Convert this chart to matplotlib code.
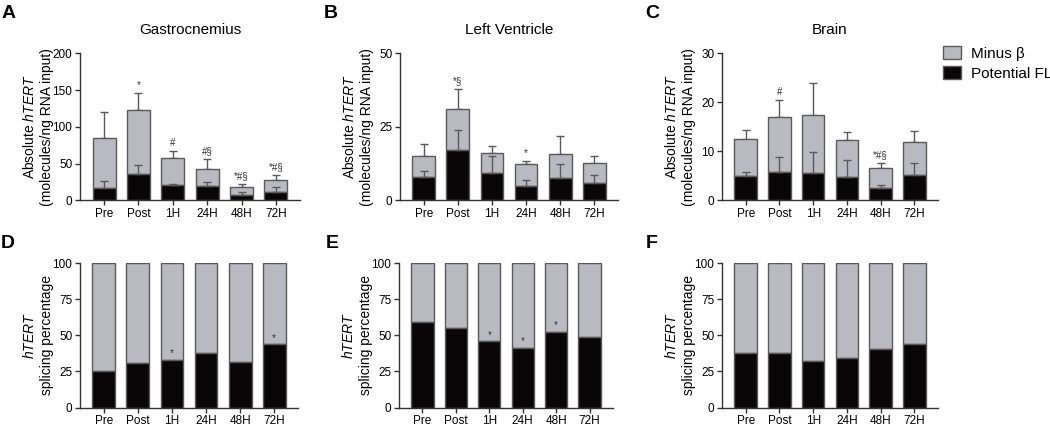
import numpy as np
import matplotlib
matplotlib.use("Agg")
import matplotlib.pyplot as plt
from matplotlib.patches import Patch

plt.rcParams['font.family'] = ['Liberation Sans', 'DejaVu Sans']
plt.rcParams['mathtext.fontset'] = 'custom'
plt.rcParams['mathtext.rm'] = 'Liberation Sans'
plt.rcParams['mathtext.it'] = 'Liberation Sans:italic'

times = ['Pre', 'Post', '1H', '24H', '48H', '72H']

# absolute hTERT, stacked: potential FL (black) + minus beta (grey)
gas_fl = [17.3, 36.4, 20.5, 19.1, 7.7, 11.8]
gas_fl_err = [8.7, 12.3, 1.8, 5.5, 3.2, 6.0]
gas_mb = [68.3, 86.1, 37.8, 24.2, 11.0, 15.5]
gas_mb_err = [34.2, 23.3, 9.1, 13.2, 4.1, 6.9]
gas_sig = ['', '*', '#', '#§', '*#§', '*#§']

lv_fl = [8.0, 17.2, 9.2, 5.0, 7.8, 6.1]
lv_fl_err = [2.0, 6.8, 6.1, 1.9, 4.5, 2.5]
lv_mb = [7.3, 14.05, 6.8, 7.5, 7.9, 6.5]
lv_mb_err = [3.8, 6.55, 2.4, 1.1, 6.3, 2.5]
lv_sig = ['', '*§', '', '*', '', '']

br_fl = [5.0, 5.9, 5.7, 4.8, 2.6, 5.3]
br_fl_err = [0.8, 3.0, 4.2, 3.5, 0.6, 2.3]
br_mb = [7.45, 11.2, 11.7, 7.6, 4.0, 6.6]
br_mb_err = [1.85, 3.5, 6.5, 1.6, 1.1, 2.3]
br_sig = ['', '#', '', '', '*#§', '']

# splicing percentage (potential FL share)
gas_pct = [25.2, 30.6, 33.0, 37.7, 31.2, 43.7]
gas_pct_sig = ['', '', '*', '', '', '*']
lv_pct = [59.0, 55.0, 45.7, 41.5, 52.5, 48.7]
lv_pct_sig = ['', '', '*', '*', '*', '']
br_pct = [38.0, 38.0, 32.3, 34.6, 40.3, 44.2]
br_pct_sig = ['', '', '', '', '', '']

GREY = '#b9b9c1'
BLACK = '#0a0608'
EDGE = '#5a5a5a'
W, H = 1050, 425

fig = plt.figure(figsize=(10.5, 4.25), dpi=100)


def make_ax(left, right, top, bottom):
    ax = fig.add_axes([left / W, 1 - bottom / H, (right - left) / W, (bottom - top) / H])
    for s in ['top', 'right']:
        ax.spines[s].set_visible(False)
    for s in ['left', 'bottom']:
        ax.spines[s].set_color('#333333')
        ax.spines[s].set_linewidth(1)
    ax.tick_params(axis='both', labelsize=8.5, length=3.5, width=1, color='#333333', pad=2)
    ax.set_xlim(-0.7, 5.7)
    return ax


def abs_panel(ax, fl, fl_err, mb, mb_err, sig, ymax, ticks, title):
    x = np.arange(len(times))
    fl = np.array(fl)
    mb = np.array(mb)
    top = fl + np.array(mb)
    ax.bar(x, mb, 0.67, bottom=fl, color=GREY, edgecolor=EDGE, linewidth=1, zorder=2)
    ax.bar(x, fl, 0.67, color=BLACK, edgecolor=EDGE, linewidth=1, zorder=3)
    ax.errorbar(x, top, yerr=[np.zeros(6), mb_err], fmt='none', ecolor='#5a5a5a',
                elinewidth=1, capsize=3, capthick=1, zorder=1)
    ax.errorbar(x, fl, yerr=[np.zeros(6), fl_err], fmt='none', ecolor='#5a5a5a',
                elinewidth=1, capsize=3, capthick=1, zorder=4)
    for xi, t, e, s in zip(x, top, mb_err, sig):
        if s:
            ax.annotate(s, (xi, t + e), xytext=(0, 2), textcoords='offset points',
                        ha='center', va='bottom', fontsize=7, color='#333333')
    ax.set_ylim(0, ymax)
    ax.set_yticks(ticks)
    ax.set_xticks(x)
    ax.set_xticklabels(times)
    ax.set_title(title, fontsize=11, pad=14)
    ax.set_ylabel('Absolute $\\mathit{hTERT}$\n(molecules/ng RNA input)', fontsize=10,
                  linespacing=1.3)
    ax.yaxis.set_label_coords(-26 / (ax.get_position().width * W), 0.5)


def pct_panel(ax, pct, sig):
    x = np.arange(len(times))
    pct = np.array(pct)
    ax.bar(x, 100 - pct, 0.67, bottom=pct, color=GREY, edgecolor=EDGE, linewidth=1, zorder=2)
    ax.bar(x, pct, 0.67, color=BLACK, edgecolor=EDGE, linewidth=1, zorder=3)
    for xi, p, s in zip(x, pct, sig):
        if s:
            ax.annotate(s, (xi, p), xytext=(0, 1), textcoords='offset points',
                        ha='center', va='bottom', fontsize=7, color='#333333')
    ax.set_ylim(0, 100)
    ax.set_yticks([0, 25, 50, 75, 100])
    ax.set_xticks(x)
    ax.set_xticklabels(times)
    ax.set_ylabel('$\\mathit{hTERT}$\nsplicing percentage', fontsize=10, linespacing=1.3)
    ax.yaxis.set_label_coords(-26 / (ax.get_position().width * W), 0.5)


axA = make_ax(80, 300, 53.5, 200.5)
axB = make_ax(400, 618, 53.5, 200.5)
axC = make_ax(722, 938, 53.5, 200.5)
abs_panel(axA, gas_fl, gas_fl_err, gas_mb, gas_mb_err, gas_sig, 200, [0, 50, 100, 150, 200], 'Gastrocnemius')
abs_panel(axB, lv_fl, lv_fl_err, lv_mb, lv_mb_err, lv_sig, 50, [0, 25, 50], 'Left Ventricle')
abs_panel(axC, br_fl, br_fl_err, br_mb, br_mb_err, br_sig, 30, [0, 10, 20, 30], 'Brain')

axD = make_ax(80, 298, 263, 407.5)
axE = make_ax(399, 613, 263, 407.5)
axF = make_ax(722, 938, 263, 407.5)
pct_panel(axD, gas_pct, gas_pct_sig)
pct_panel(axE, lv_pct, lv_pct_sig)
pct_panel(axF, br_pct, br_pct_sig)

for letter, px, py in [('A', 9, 14), ('B', 331, 14), ('C', 652, 14),
                       ('D', 8, 244), ('E', 332, 244), ('F', 652, 244)]:
    fig.text(px / W, 1 - py / H, letter, fontsize=14, fontweight='bold',
             ha='center', va='center')

handles = [Patch(facecolor=GREY, edgecolor=EDGE, label='Minus β'),
           Patch(facecolor=BLACK, edgecolor=EDGE, label='Potential FL')]
fig.legend(handles=handles, loc='upper left', bbox_to_anchor=(937 / W, 1 - 40 / H),
           frameon=False, fontsize=11, handlelength=1.2, handleheight=0.9,
           handletextpad=0.6, labelspacing=0.35, borderaxespad=0)

fig.savefig('out.png', dpi=100)
